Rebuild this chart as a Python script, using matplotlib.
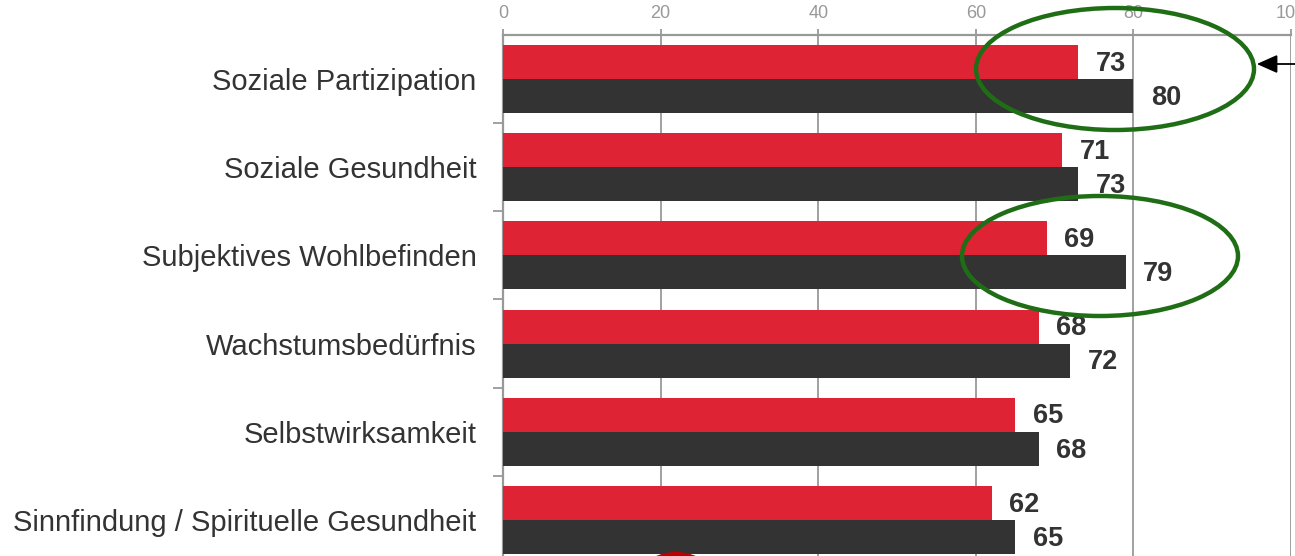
import matplotlib
matplotlib.use("Agg")
import matplotlib.pyplot as plt
from matplotlib.patches import Ellipse, FancyArrowPatch
from matplotlib.transforms import IdentityTransform
import numpy as np

categories = ["Soziale Partizipation", "Soziale Gesundheit", "Subjektives Wohlbefinden",
              "Wachstumsbedürfnis", "Selbstwirksamkeit", "Sinnfindung / Spirituelle Gesundheit"]
red_values = [73, 71, 69, 68, 65, 62]
dark_values = [80, 73, 79, 72, 68, 65]
x_ticks = [0, 20, 40, 60, 80, 100]

W, H = 1295, 556
fig = plt.figure(figsize=(W / 100, H / 100), dpi=100)
fig.patch.set_facecolor("white")
ax_left, ax_right, ax_top, ax_bot = 503, 1291, 35, 564
ax = fig.add_axes([ax_left / W, 1 - ax_bot / H, (ax_right - ax_left) / W, (ax_bot - ax_top) / H])
ax.set_xlim(0, 100)
ax.set_ylim(len(categories) - 0.5, -0.5)

y = np.arange(len(categories))
bh = 0.386
red = "#DE2334"
dark = "#333333"
ax.barh(y - bh / 2, red_values, height=bh, color=red, zorder=3)
ax.barh(y + bh / 2, dark_values, height=bh, color=dark, zorder=3)

narrow = ["Liberation Sans Narrow", "Liberation Sans", "DejaVu Sans"]
for yi, v in zip(y, red_values):
    ax.text(v + 2.2, yi - bh / 2 + 0.02, str(v), va="center", ha="left", fontsize=19.5,
            fontweight="bold", color="#333333", family=narrow, zorder=5)
for yi, v in zip(y, dark_values):
    ax.text(v + 2.2, yi + bh / 2 + 0.02, str(v), va="center", ha="left", fontsize=19.5,
            fontweight="bold", color="#333333", family=narrow, zorder=5)

ax.set_xticks(x_ticks)
ax.xaxis.tick_top()
ax.tick_params(axis="x", direction="out", length=4, width=1.3, color="#999999",
               labelsize=13, labelcolor="#999999", pad=5)
for lab in ax.get_xticklabels():
    lab.set_family(narrow)
ax.xaxis.grid(True, color="#999999", linewidth=1.3, zorder=1)

ax.set_yticks(y)
ax.set_yticklabels(categories, fontsize=21, color="#333333", family="Liberation Sans")
ax.tick_params(axis="y", length=0, pad=19)
ax.set_yticks(np.arange(len(categories)) + 0.5, minor=True)
ax.tick_params(axis="y", which="minor", length=7, width=1.3, color="#999999")

for s in ["right", "bottom"]:
    ax.spines[s].set_visible(False)
for s in ["top", "left"]:
    ax.spines[s].set_color("#999999")
    ax.spines[s].set_linewidth(1.6)

def pix(xp, yp):
    return (xp, H - yp)

for (cx, cy, w, h) in [(1115, 69, 278, 122), (1100, 256, 276, 120)]:
    e = Ellipse(pix(cx, cy), w, h, fill=False, edgecolor="#1F6E16", linewidth=3.2,
                transform=IdentityTransform(), zorder=10)
    fig.patches.append(e)

blob = Ellipse(pix(676, 612), 110, 120, facecolor="#C00000", edgecolor="none",
               transform=IdentityTransform(), zorder=10)
fig.patches.append(blob)

fig.add_artist(FancyArrowPatch(pix(1300, 64), pix(1254, 64),
               arrowstyle="-|>,head_length=9,head_width=4", color="black", linewidth=1.3,
               transform=IdentityTransform(), mutation_scale=1.4))

fig.savefig("out.png", dpi=100, facecolor="white")
